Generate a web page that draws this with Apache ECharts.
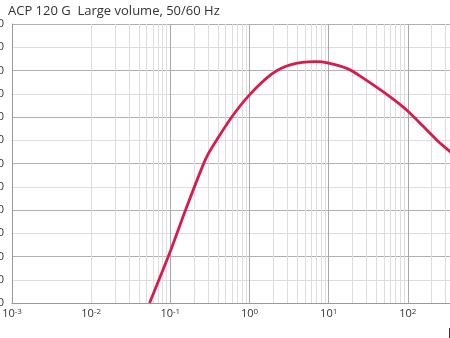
<!DOCTYPE html>
<html>
<head>
<meta charset="utf-8">
<script src="https://cdn.jsdelivr.net/npm/echarts@6/dist/echarts.min.js"></script>
<style>
  html, body { margin: 0; padding: 0; overflow: hidden; background: #fff; }
  #chart { width: 500px; height: 338px; }
</style>
</head>
<body>
<div id="chart"></div>
<script>
// Pumping speed curve, ACP 120 G, large volume
const titleText = 'ACP 120 G  Large volume, 50/60 Hz';
const pressure = [0.0546, 0.1, 0.154, 0.258, 0.3, 0.385, 0.6, 1, 1.92, 3.27, 6.76, 10, 17, 25, 59.8, 102, 232, 342, 600];
const speed    = [0,      22.3, 39.6, 59.2, 64.0, 70.1, 80.1, 89.5, 98.5, 102.4, 103.8, 103.2, 100.9, 97.6, 88.7, 82.3, 70.1, 65.1, 57.8];
const xMin = 0.001, xMax = 1000;
const yMin = 0, yMax = 120, yStep = 10;
const xAxisName = 'hPa';

// minor decade gridlines (2..9 × 10^n)
const minorLines = [];
for (let e = Math.log10(xMin); e < Math.log10(xMax); e++) {
  for (let k = 2; k <= 9; k++) {
    minorLines.push({ xAxis: k * Math.pow(10, e) });
  }
}

const chart = echarts.init(document.getElementById('chart'));
chart.setOption({
  animation: false,
  textStyle: { fontFamily: 'Open Sans' },
  title: {
    text: titleText,
    left: 3, top: 0,
    textStyle: { fontSize: 13, fontWeight: 'normal', color: '#333', fontFamily: 'Open Sans' }
  },
  grid: { left: 12, top: 24, right: 13, bottom: 35, containLabel: false, outerBoundsMode: 'none' },
  xAxis: {
    type: 'log',
    min: xMin, max: xMax, logBase: 10,
    name: xAxisName,
    nameLocation: 'end',
    nameGap: -39,
    nameTextStyle: { color: '#333', fontSize: 12, align: 'left', verticalAlign: 'top', padding: [26, 0, 0, 0] },
    axisLine: { show: true, lineStyle: { color: '#999', width: 1 } },
    axisTick: { show: false },
    axisLabel: {
      margin: 5,
      color: '#333',
      formatter: function (v) {
        const e = Math.round(Math.log10(v));
        return '{b|10}{s|' + e + '}';
      },
      rich: {
        b: { fontSize: 11, color: '#333', fontFamily: 'Open Sans', verticalAlign: 'bottom' },
        s: { fontSize: 8, color: '#333', fontFamily: 'Open Sans', verticalAlign: 'top' }
      }
    },
    splitLine: { show: true, lineStyle: { color: '#a8a8a8', width: 1 } },
    minorSplitLine: { show: false }
  },
  yAxis: {
    type: 'value',
    min: yMin, max: yMax, interval: yStep,
    axisLine: { show: true, lineStyle: { color: '#999', width: 1 } },
    axisTick: { show: false },
    axisLabel: { margin: 8, color: '#333', fontSize: 11 },
    splitLine: { show: true, lineStyle: { color: ['#b0b0b0', '#dddddd'], width: 1 } }
  },
  series: [
    {
      type: 'line',
      data: [],
      silent: true,
      z: 1,
      markLine: {
        silent: true,
        symbol: 'none',
        label: { show: false },
        lineStyle: { color: '#dddddd', width: 1, type: 'solid' },
        data: minorLines,
        animation: false
      }
    },
    {
      type: 'line',
      z: 5,
      data: pressure.map((p, i) => [p, speed[i]]),
      smooth: 0.3,
      showSymbol: false,
      lineStyle: { color: '#d91a4c', width: 2.8 },
      clip: true
    }
  ]
});
</script>
</body>
</html>
